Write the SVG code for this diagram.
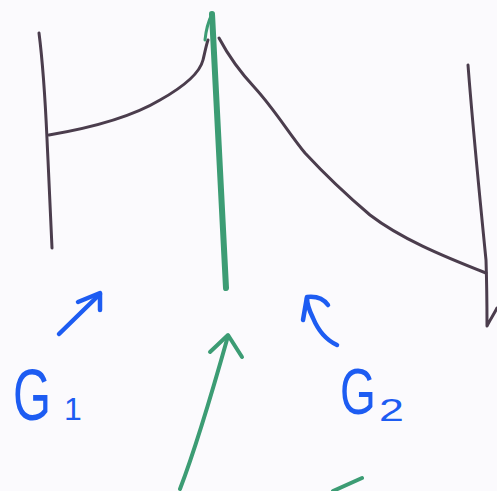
<svg xmlns="http://www.w3.org/2000/svg" width="497" height="491" viewBox="0 0 497 491">
<style>
.dk{fill:none;stroke:#4b3d4d;stroke-width:3;stroke-linecap:round;stroke-linejoin:round}
.gr{fill:none;stroke:#3c9c74;stroke-linecap:round;stroke-linejoin:round}
.bl{fill:none;stroke:#1d5cf2;stroke-width:4.5;stroke-linecap:round;stroke-linejoin:round}
.lbl{font-family:"Liberation Sans","DejaVu Sans",sans-serif;fill:#1d5cf2}
</style>
<rect width="497" height="491" fill="#fbfafd"/>
<g id="structure">
<path class="dk" d="M39 33 C45 80 46 120 48 160 C50 200 51 230 52 248"/>
<path class="dk" d="M49 135 C90 128 130 118 160 100 C185 86 200 72 203 60 C205 52 206 46 208 40"/>
<path class="dk" d="M219 38 C228 55 240 72 255 88 C275 110 290 135 305 153 C330 180 350 198 370 215 C400 238 440 255 486 273"/>
<path class="dk" d="M468 65 C473 130 480 200 486 260 C487 290 487 310 487 326 C490 320 494 314 497 308"/>
<path class="gr" stroke-width="6" d="M212 14 C216 90 220 180 226 288"/>
<path class="gr" stroke-width="3" d="M212 14 C208 22 206 30 205 40" stroke="#2f6aa8"/>
</g>
<g id="connectors">
<path class="bl" d="M59 334 L100 294"/>
<path class="bl" d="M78 302 L100 293 L100 310"/>
<path class="bl" d="M337 345 C326 340 318 330 313 318 C309 310 307 303 307 298"/>
<path class="bl" d="M328 305 C323 298 316 296 307 297 L303 320"/>
<path class="gr" stroke-width="4" d="M180 489 C195 450 210 400 228 336"/>
<path class="gr" stroke-width="4" d="M210 352 L228 335 L242 357"/>
<path class="gr" stroke-width="4" d="M333 491 L362 478"/>
</g>
<g id="label-g1">
<text class="lbl" x="13" y="420" font-size="72" transform="translate(13 420) scale(0.68 1) translate(-13 -420)">G</text>
<text class="lbl" x="64" y="420" font-size="32">1</text>
</g>
<g id="label-g2">
<text class="lbl" x="340" y="414" font-size="64" transform="translate(340 414) scale(0.72 1) translate(-340 -414)">G</text>
<text class="lbl" x="379" y="421" font-size="32" transform="translate(379 421) scale(1.4 1) translate(-379 -421)">2</text>
</g>
</svg>
